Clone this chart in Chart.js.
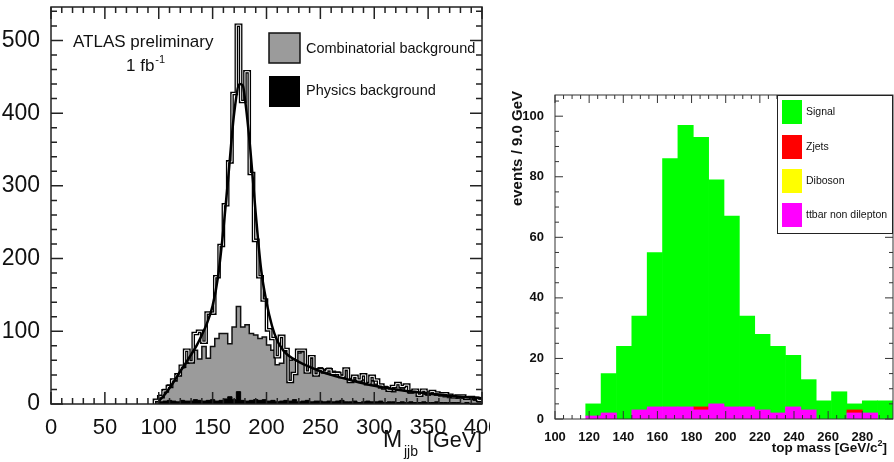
<!DOCTYPE html>
<html>
<head>
<meta charset="utf-8">
<script src="https://cdn.jsdelivr.net/npm/chart.js@4.4.0/dist/chart.umd.min.js"></script>
<style>
html, body { margin: 0; padding: 0; background: #fff; width: 894px; height: 462px; overflow: hidden; }
#left { position: absolute; left: 0; top: 0; }
#right { position: absolute; left: 494px; top: 0; }
</style>
</head>
<body>
<canvas id="left" width="490" height="462"></canvas>
<canvas id="right" width="400" height="462"></canvas>
<script>
// ---- left panel: M_jjb, 4 GeV bins starting at 96 GeV ----
const mjjbFirstBin = 96;
const mjjbBinWidth = 4;
const mjjbTotal = [5, 10, 18, 24, 33, 40, 52, 74, 58, 97,
    100, 85, 125, 125, 175, 218, 274, 333, 427, 521,
    416, 457, 317, 225, 175, 143, 102, 90, 65, 93,
    75, 31, 42, 74, 74, 44, 65, 40, 47, 44,
    47, 42, 42, 38, 48, 31, 38, 33, 40, 28,
    38, 33, 26, 22, 19, 24, 28, 24, 26, 17,
    19, 12, 19, 15, 17, 15, 14, 14, 12, 10,
    11, 11, 8, 9, 8, 5];
const mjjbCombinatorial = [3, 12, 20, 26, 33, 40, 50, 56, 67, 74,
    62, 79, 63, 79, 90, 97, 97, 83, 106, 134,
    106, 109, 97, 95, 90, 92, 81, 74, 54, 56,
    72, 60, 62, 70, 72, 52, 63, 48, 50, 47,
    49, 45, 44, 40, 46, 35, 34, 30, 33, 28,
    32, 27, 22, 24, 20, 17, 20, 22, 18, 15,
    17, 13, 14, 12, 13, 12, 11, 10, 9, 9,
    8, 8, 7, 7, 5, 3];
const mjjbPhysics = [0, 3, 4, 5, 4, 3, 5, 4, 4, 6,
    5, 4, 5, 6, 4, 5, 7, 10, 6, 17,
    5, 4, 5, 6, 5, 6, 4, 5, 3, 4,
    5, 4, 6, 3, 4, 5, 3, 4, 4, 3,
    4, 3, 4, 5, 3, 3, 4, 2, 3, 4,
    3, 3, 4, 2, 3, 3, 2, 3, 2, 3,
    2, 2, 3, 2, 2, 3, 2, 2, 2, 2,
    2, 1, 2, 1, 1, 1];
const fitMass = [100, 105, 110, 115, 120, 125, 130, 135, 140, 145, 150, 155, 160, 165, 170, 175, 178, 180, 185, 190,
    195, 200, 205, 210, 215, 220, 230, 240, 250, 260, 280, 300, 320, 340, 360, 380, 400];
const fitValue = [4, 12, 22, 33, 45, 56, 68, 80, 95, 112, 135, 175, 240, 320, 400, 440, 438, 420, 350, 262,
    185, 140, 108, 87, 75, 67, 58, 51, 45, 40, 32, 25, 20, 16, 13, 10, 8];

// ---- right panel: top mass, 9 GeV bins ----
const topBinLow = [100, 109, 118, 127, 136, 145, 154, 163, 172, 181, 190, 199, 208, 217, 226, 235, 244, 253, 262, 271, 280, 289];
const ttbarNonDilepton = [0, 0, 1, 2, 0, 3, 4, 4, 4, 3, 5, 4, 4, 3, 2, 4, 3, 0, 0, 2, 2, 0];
const diboson = [0, 0, 0, 0, 0, 0, 0, 0, 0, 0, 0, 0, 0, 0, 0, 0, 0, 0, 0, 0, 0, 0];
const zjets = [0, 0, 0, 0, 0, 0, 0, 0, 0, 1, 0, 0, 0, 0, 0, 0, 0, 0, 0, 1, 0, 0];
const signal = [0, 0, 4, 13, 24, 31, 51, 82, 93, 89, 74, 63, 30, 25, 22, 17, 10, 6, 9, 2, 4, 6];

Chart.defaults.font.family = "'Liberation Sans', Arial, sans-serif";
Chart.defaults.color = '#111';

function histPoints(values) {
    const pts = [{x: mjjbFirstBin, y: 0}];
    values.forEach((v, i) => pts.push({x: mjjbFirstBin + i * mjjbBinWidth, y: v}));
    pts.push({x: mjjbFirstBin + values.length * mjjbBinWidth, y: values[values.length - 1]});
    return pts;
}

function isMultiple(v, step) {
    return Math.abs(v / step - Math.round(v / step)) < 1e-6;
}

// frame box + ROOT style inward ticks on all four sides
const frameTicks = {
    id: 'frameTicks',
    afterDatasetsDraw(chart, args, o) {
        const {ctx, chartArea: a, scales: {x, y}} = chart;
        ctx.save();
        ctx.strokeStyle = o.color;
        ctx.lineWidth = o.width;
        ctx.beginPath();
        for (let v = x.min; v <= x.max + 1e-6; v += o.xMinor) {
            const len = isMultiple(v, o.xMajor) ? o.majorLen : o.minorLen;
            const px = x.getPixelForValue(v);
            ctx.moveTo(px, a.bottom); ctx.lineTo(px, a.bottom - len);
            ctx.moveTo(px, a.top); ctx.lineTo(px, a.top + len);
        }
        for (let v = y.min; v <= y.max + 1e-6; v += o.yMinor) {
            const len = isMultiple(v, o.yMajor) ? o.majorLen : o.minorLen;
            const py = y.getPixelForValue(v);
            ctx.moveTo(a.left, py); ctx.lineTo(a.left + len, py);
            ctx.moveTo(a.right, py); ctx.lineTo(a.right - len, py);
        }
        ctx.stroke();
        ctx.strokeRect(a.left, a.top, a.right - a.left, a.bottom - a.top);
        ctx.restore();
    }
};

function fixAxis(size, horizontal) {
    return function(scale) {
        if (horizontal) { scale.height = size; } else { scale.width = size; }
        scale.paddingLeft = 0; scale.paddingRight = 0;
        scale.paddingTop = 0; scale.paddingBottom = 0;
    };
}

const leftText = {
    id: 'leftText',
    afterDraw(chart) {
        const ctx = chart.ctx;
        const ff = "'Liberation Sans', Arial, sans-serif";
        ctx.save();
        ctx.fillStyle = '#111';
        ctx.textBaseline = 'alphabetic';
        ctx.font = '17px ' + ff;
        ctx.fillText('ATLAS preliminary', 73, 47);
        ctx.fillText('1 fb', 126, 71);
        const w = ctx.measureText('1 fb').width;
        ctx.font = '11px ' + ff;
        ctx.fillText('-1', 126 + w + 1, 63);
        // legend
        ctx.fillStyle = '#9b9b9b';
        ctx.fillRect(269, 33, 31, 30);
        ctx.strokeStyle = '#111';
        ctx.lineWidth = 1.5;
        ctx.strokeRect(269, 33, 31, 30);
        ctx.fillStyle = '#000';
        ctx.fillRect(269, 76, 31, 31);
        ctx.fillStyle = '#111';
        ctx.font = '14.5px ' + ff;
        ctx.textBaseline = 'middle';
        ctx.fillText('Combinatorial background', 306, 49);
        ctx.fillText('Physics background', 306, 91);
        // x title
        ctx.textBaseline = 'alphabetic';
        ctx.font = '23px ' + ff;
        ctx.fillText('M', 383, 447);
        ctx.font = '21.5px ' + ff;
        ctx.textAlign = 'right';
        ctx.fillText('[GeV]', 482, 447);
        ctx.textAlign = 'left';
        ctx.font = '14px ' + ff;
        ctx.fillText('jjb', 404, 456);
        ctx.restore();
    }
};

new Chart(document.getElementById('left'), {
    type: 'line',
    data: {
        datasets: [
            {
                label: 'fit',
                data: fitMass.map((m, i) => ({x: m, y: fitValue[i]})),
                borderColor: '#000',
                borderWidth: 2.5,
                cubicInterpolationMode: 'monotone',
                pointRadius: 0,
                order: 0
            },
            {
                label: 'total core',
                data: histPoints(mjjbTotal),
                borderColor: '#fff',
                borderWidth: 1,
                stepped: true,
                pointRadius: 0,
                order: 1
            },
            {
                label: 'total',
                data: histPoints(mjjbTotal),
                borderColor: '#000',
                borderWidth: 3.6,
                stepped: true,
                pointRadius: 0,
                order: 2
            },
            {
                label: 'Physics background',
                data: histPoints(mjjbPhysics),
                borderColor: '#000',
                backgroundColor: '#000',
                borderWidth: 1,
                stepped: true,
                fill: 'origin',
                pointRadius: 0,
                order: 3
            },
            {
                label: 'Combinatorial background',
                data: histPoints(mjjbCombinatorial),
                borderColor: '#111',
                backgroundColor: '#9b9b9b',
                borderWidth: 1.5,
                stepped: true,
                fill: 'origin',
                pointRadius: 0,
                order: 4
            }
        ]
    },
    options: {
        responsive: false,
        animation: false,
        layout: {padding: {top: 7, right: 8, left: 0, bottom: 0}},
        plugins: {
            legend: {display: false},
            tooltip: {enabled: false},
            frameTicks: {xMajor: 50, xMinor: 10, yMajor: 100, yMinor: 20, majorLen: 12, minorLen: 6, color: '#222', width: 1.5}
        },
        scales: {
            x: {
                type: 'linear', min: 0, max: 400,
                grid: {display: false}, border: {display: false},
                ticks: {stepSize: 50, autoSkip: false, includeBounds: false, maxRotation: 0, padding: 3, font: {size: 22},
                    callback: v => isMultiple(v, 50) ? v : ''},
                afterFit: fixAxis(58, true)
            },
            y: {
                min: 0, max: 546,
                grid: {display: false}, border: {display: false},
                ticks: {stepSize: 100, autoSkip: false, includeBounds: false, padding: 3, font: {size: 23},
                    callback: v => isMultiple(v, 100) ? v : ''},
                afterFit: fixAxis(51, false)
            }
        }
    },
    plugins: [frameTicks, leftText]
});

const rightText = {
    id: 'rightText',
    afterDraw(chart) {
        const ctx = chart.ctx;
        const ff = "'Liberation Sans', Arial, sans-serif";
        ctx.save();
        // legend box
        ctx.fillStyle = '#fff';
        ctx.fillRect(283, 95, 116, 138);
        ctx.strokeStyle = '#222';
        ctx.lineWidth = 1;
        ctx.strokeRect(283.5, 95.5, 115, 138);
        const entries = [
            ['Signal', '#00ff00', 100],
            ['Zjets', '#ff0000', 135],
            ['Diboson', '#ffff00', 169],
            ['ttbar non dilepton', '#ff00ff', 203]
        ];
        ctx.font = '10.5px ' + ff;
        ctx.textBaseline = 'middle';
        entries.forEach(([name, col, top]) => {
            ctx.fillStyle = col;
            ctx.fillRect(288, top, 20, 24);
            ctx.fillStyle = '#111';
            ctx.fillText(name, 312, top + 12);
        });
        // y title
        ctx.save();
        ctx.translate(24, 91);
        ctx.rotate(-Math.PI / 2);
        ctx.font = 'bold 15px ' + ff;
        ctx.textAlign = 'right';
        ctx.fillText('events / 9.0 GeV', 0, 0);
        ctx.restore();
        // x title
        ctx.font = 'bold 13.5px ' + ff;
        ctx.textBaseline = 'alphabetic';
        ctx.textAlign = 'right';
        const tail = ']';
        ctx.fillText(tail, 393, 452);
        const tw = ctx.measureText(tail).width;
        ctx.font = 'bold 9px ' + ff;
        ctx.fillText('2', 393 - tw, 446);
        const sw = ctx.measureText('2').width;
        ctx.font = 'bold 13.5px ' + ff;
        ctx.fillText('top mass [GeV/c', 393 - tw - sw, 452);
        ctx.restore();
    }
};

// empty bins are left out so no zero-height slivers are drawn
function barData(values) {
    return values.map((v, i) => ({x: topBinLow[i] + 4.5, y: v === 0 ? null : v}));
}

new Chart(document.getElementById('right'), {
    type: 'bar',
    data: {
        datasets: [
            {label: 'ttbar non dilepton', data: barData(ttbarNonDilepton), backgroundColor: '#ff00ff'},
            {label: 'Diboson', data: barData(diboson), backgroundColor: '#ffff00'},
            {label: 'Zjets', data: barData(zjets), backgroundColor: '#ff0000'},
            {label: 'Signal', data: barData(signal), backgroundColor: '#00ff00'}
        ]
    },
    options: {
        responsive: false,
        animation: false,
        barPercentage: 1,
        categoryPercentage: 1,
        skipNull: true,
        layout: {padding: {top: 95, right: 1, left: 0, bottom: 0}},
        plugins: {
            legend: {display: false},
            tooltip: {enabled: false},
            frameTicks: {xMajor: 20, xMinor: 5, yMajor: 20, yMinor: 5, majorLen: 8, minorLen: 4, color: '#333', width: 1}
        },
        scales: {
            x: {
                type: 'linear', min: 100, max: 298, stacked: true, offset: false,
                grid: {display: false}, border: {display: false},
                ticks: {stepSize: 20, autoSkip: false, includeBounds: false, maxRotation: 0, padding: 3, font: {size: 13, weight: 'bold'},
                    callback: v => (isMultiple(v, 20) && v <= 280) ? v : ''},
                afterFit: fixAxis(43, true)
            },
            y: {
                min: 0, max: 107, stacked: true,
                grid: {display: false}, border: {display: false},
                ticks: {stepSize: 20, autoSkip: false, includeBounds: false, padding: 3, font: {size: 13, weight: 'bold'},
                    callback: v => isMultiple(v, 20) ? v : ''},
                afterFit: fixAxis(61, false)
            }
        }
    },
    plugins: [frameTicks, rightText]
});
</script>
</body>
</html>
